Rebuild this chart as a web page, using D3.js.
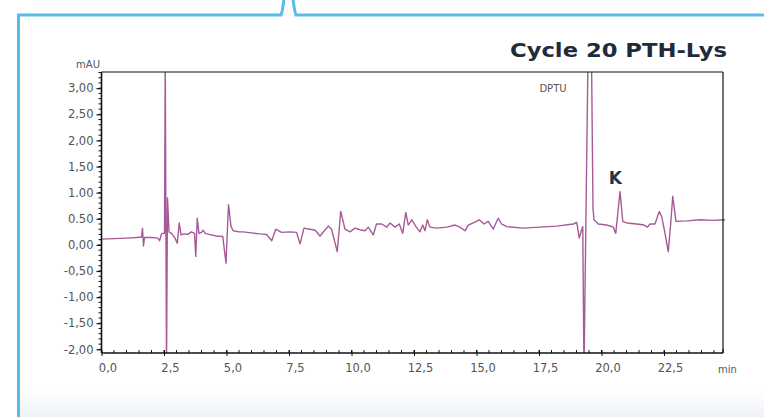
<!DOCTYPE html>
<html>
<head>
<meta charset="utf-8">
<script src="https://cdn.jsdelivr.net/npm/d3@7"></script>
<style>
  body { margin: 0; background: #fff; }
  svg { display: block; }
</style>
</head>
<body>
<svg id="chart" width="764" height="417"></svg>
<script>
// chromatogram: time in min, signal in mAU
var timeMin = [0.0, 0.5, 1.0, 1.4, 1.6, 1.64, 1.68, 1.72, 2.0, 2.25, 2.32, 2.41, 2.52, 2.55, 2.60, 2.64, 2.70,
  2.8, 2.95, 3.03, 3.11, 3.18, 3.3, 3.45, 3.6, 3.72, 3.77, 3.83, 3.9, 4.0, 4.07, 4.15, 4.3, 4.6, 4.85,
  4.98, 5.08, 5.18, 5.27, 5.5, 5.67, 6.0, 6.34, 6.6, 6.81, 6.97, 7.2, 7.54, 7.8, 7.94, 8.1, 8.34, 8.55,
  8.74, 8.9, 9.07, 9.2, 9.43, 9.57, 9.74, 9.94, 10.14, 10.34, 10.54, 10.67, 10.87, 11.0, 11.21, 11.41,
  11.54, 11.74, 11.91, 12.05, 12.17, 12.27, 12.41, 12.58, 12.74, 12.85, 12.94, 13.03, 13.14, 13.41,
  13.81, 14.14, 14.34, 14.54, 14.67, 14.87, 15.11, 15.3, 15.47, 15.67, 15.74, 15.87, 16.0, 16.21,
  16.87, 17.54, 18.21, 18.87, 19.01, 19.11, 19.21, 19.25, 19.30, 19.46, 19.60, 19.66, 19.70, 19.87,
  20.21, 20.47, 20.57, 20.74, 20.85, 21.01, 21.41, 21.7, 21.84, 21.94, 22.14, 22.31, 22.41, 22.54,
  22.67, 22.77, 22.85, 22.98, 23.41, 23.94, 24.47, 24.94];
var signalMAU = [0.11, 0.12, 0.13, 0.14, 0.15, 0.32, -0.02, 0.14, 0.14, 0.13, 0.08, 0.22, 0.22, 3.6, -2.4, 0.9, 0.25,
  0.22, 0.12, 0.03, 0.42, 0.19, 0.21, 0.2, 0.25, 0.22, -0.22, 0.51, 0.22, 0.24, 0.28, 0.22, 0.2, 0.17, 0.16,
  -0.35, 0.77, 0.35, 0.27, 0.25, 0.25, 0.23, 0.21, 0.2, 0.08, 0.3, 0.24, 0.25, 0.24, 0.02, 0.32, 0.3, 0.28,
  0.17, 0.26, 0.36, 0.3, -0.13, 0.64, 0.3, 0.25, 0.32, 0.29, 0.27, 0.34, 0.19, 0.40, 0.40, 0.34,
  0.42, 0.34, 0.40, 0.22, 0.62, 0.38, 0.48, 0.35, 0.25, 0.38, 0.27, 0.48, 0.34, 0.32,
  0.34, 0.38, 0.34, 0.27, 0.38, 0.42, 0.48, 0.40, 0.45, 0.30, 0.38, 0.51, 0.40, 0.35,
  0.32, 0.34, 0.36, 0.40, 0.43, 0.13, 0.30, 0.35, -2.4, 3.6, 3.6, 0.7, 0.48, 0.40,
  0.38, 0.34, 0.22, 1.02, 0.45, 0.42, 0.40, 0.38, 0.34, 0.40, 0.40, 0.64, 0.54, 0.22,
  -0.13, 0.42, 0.93, 0.45, 0.46, 0.48, 0.47, 0.48];

var xTickValues = [0, 2.5, 5, 7.5, 10, 12.5, 15, 17.5, 20, 22.5];
var xTickLabels = ["0,0", "2,5", "5,0", "7,5", "10,0", "12,5", "15,0", "17,5", "20,0", "22,5"];
var yTickValues = [3, 2.5, 2, 1.5, 1, 0.5, 0, -0.5, -1, -1.5, -2];
var yTickLabels = ["3,00", "2,50", "2,00", "1,50", "1.00", "0.50", "0,00", "-0,50", "-1,00", "-1,50", "-2,00"];

var peakNames = ["DPTU", "K"];
var peakTimes = [18.06, 20.55];
var peakLevels = [2.92, 1.17];

var chartTitle = "Cycle 20 PTH-Lys";

var svg = d3.select("#chart");
var plotL = 101.5, plotR = 723, plotT = 72, plotB = 353;

var x = d3.scaleLinear().domain([0, 24.86]).range([plotL, plotR]);
var y = d3.scaleLinear().domain([-2.07, 3.31]).range([plotB, plotT]);

// pale band at the foot of the box
var foot = svg.append("defs").append("linearGradient").attr("id", "foot")
  .attr("x1", 0).attr("y1", 0).attr("x2", 0).attr("y2", 1);
foot.append("stop").attr("offset", "0").attr("stop-color", "#ffffff");
foot.append("stop").attr("offset", "1").attr("stop-color", "#eef2f5");
svg.append("rect").attr("x", 20).attr("y", 388).attr("width", 744).attr("height", 29)
  .attr("fill", "url(#foot)");

// blue callout frame
var frame = "#58bde6";
svg.append("path")
  .attr("d", "M18.5,417 L18.5,15 L281,15 C283,10 283,4 284,0 M293,0 C294,4 294,10 296,15 L764,15")
  .attr("fill", "none").attr("stroke", frame).attr("stroke-width", 3);

// title
svg.append("text")
  .attr("x", 727).attr("y", 57)
  .attr("text-anchor", "end")
  .attr("textLength", 217).attr("lengthAdjust", "spacingAndGlyphs")
  .style("font-family", "'DejaVu Sans', sans-serif")
  .style("font-weight", "bold").style("font-size", "20px")
  .style("fill", "#1f2b3a")
  .text(chartTitle);

// trace, clipped to the plot frame
svg.append("clipPath").attr("id", "plotclip")
  .append("rect").attr("x", plotL).attr("y", plotT).attr("width", plotR - plotL + 3).attr("height", plotB - plotT);

var pts = timeMin.map(function (t, i) { return [t, signalMAU[i]]; });
var line = d3.line().x(function (d) { return x(d[0]); }).y(function (d) { return y(d[1]); });

svg.append("path")
  .datum(pts)
  .attr("clip-path", "url(#plotclip)")
  .attr("d", line)
  .attr("fill", "none")
  .attr("stroke", "#a65a98")
  .attr("stroke-width", 1.4)
  .attr("stroke-linejoin", "round");

// frame lines
var axisCol = "#111";
svg.append("line").attr("x1", plotL).attr("x2", plotR).attr("y1", plotT).attr("y2", plotT)
  .attr("stroke", axisCol).attr("stroke-width", 1.2);
svg.append("line").attr("x1", plotR).attr("x2", plotR).attr("y1", plotT).attr("y2", plotB)
  .attr("stroke", axisCol).attr("stroke-width", 1.2);

// x axis
var xAxis = d3.axisBottom(x).tickValues(xTickValues).tickSize(4)
  .tickFormat(function (d, i) { return xTickLabels[i]; });
var gx = svg.append("g").attr("transform", "translate(0," + plotB + ")").call(xAxis);
gx.select(".domain").attr("stroke", axisCol).attr("stroke-width", 1.6).attr("d", "M" + plotL + ",0H" + plotR);
gx.selectAll(".tick line").attr("stroke", axisCol).attr("y1", -3).attr("y2", 3);
gx.selectAll(".tick text")
  .attr("dx", 6).attr("y", 11)
  .style("font-family", "'DejaVu Sans', sans-serif").style("font-size", "11.5px").style("fill", "#555");

var xMinor = d3.range(0, 24.6, 0.5);
gx.selectAll(".minor").data(xMinor).enter().append("line")
  .attr("x1", function (d) { return x(d); }).attr("x2", function (d) { return x(d); })
  .attr("y1", 0).attr("y2", -3).attr("stroke", axisCol).attr("stroke-width", 1);
gx.append("line").attr("x1", plotR).attr("x2", plotR).attr("y1", 0).attr("y2", -4)
  .attr("stroke", axisCol).attr("stroke-width", 1.2);

svg.append("text").attr("x", 718).attr("y", 373)
  .style("font-family", "'DejaVu Sans', sans-serif").style("font-size", "10px").style("fill", "#555")
  .text("min");

// y axis
var yAxis = d3.axisLeft(y).tickValues(yTickValues).tickSize(5)
  .tickFormat(function (d, i) { return yTickLabels[i]; });
var gy = svg.append("g").attr("transform", "translate(" + plotL + ",0)").call(yAxis);
gy.select(".domain").attr("stroke", axisCol).attr("stroke-width", 1.6).attr("d", "M0," + plotT + "V" + plotB);
gy.selectAll(".tick line").attr("stroke", axisCol).attr("stroke-width", 1.2);
gy.selectAll(".tick text")
  .attr("x", -8)
  .style("font-family", "'DejaVu Sans', sans-serif").style("font-size", "11.5px").style("fill", "#555");

var yMinor = d3.range(-20, 34, 1).map(function (d) { return d / 10; });
gy.selectAll(".minor").data(yMinor).enter().append("line")
  .attr("y1", function (d) { return y(d); }).attr("y2", function (d) { return y(d); })
  .attr("x1", 0).attr("x2", -3).attr("stroke", axisCol).attr("stroke-width", 1);

svg.append("text").attr("x", 100).attr("y", 68).attr("text-anchor", "end")
  .style("font-family", "'DejaVu Sans', sans-serif").style("font-size", "10px").style("fill", "#555")
  .text("mAU");

// peak names
svg.selectAll(".peak").data(peakNames).enter().append("text")
  .attr("class", "peak")
  .attr("x", function (d, i) { return x(peakTimes[i]); })
  .attr("y", function (d, i) { return y(peakLevels[i]); })
  .attr("text-anchor", "middle")
  .style("font-family", "'DejaVu Sans', sans-serif")
  .style("font-size", function (d, i) { return i === 0 ? "10px" : "17px"; })
  .style("font-weight", function (d, i) { return i === 0 ? "normal" : "bold"; })
  .style("fill", function (d, i) { return i === 0 ? "#555" : "#26364a"; })
  .text(function (d) { return d; });
</script>
</body>
</html>
